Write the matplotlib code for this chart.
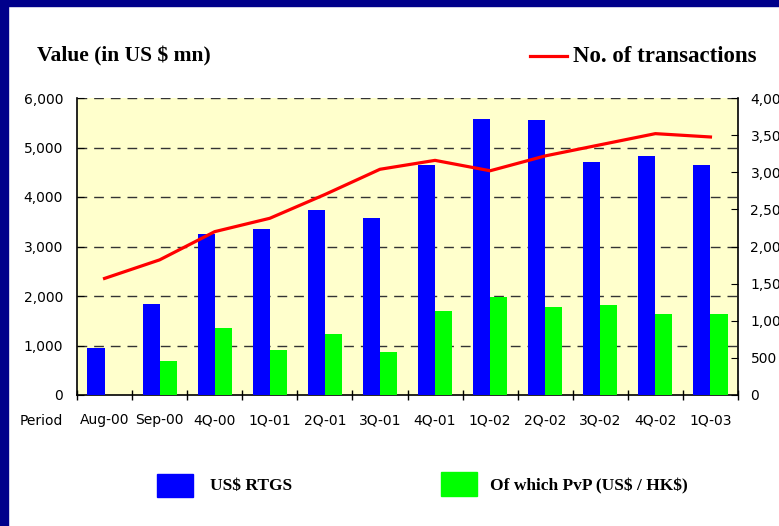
import matplotlib.pyplot as plt
import numpy as np
from matplotlib.patches import Rectangle
from matplotlib.lines import Line2D
from matplotlib.ticker import FuncFormatter

plt.rcParams["text.usetex"] = False
plt.rcParams["text.parse_math"] = False

periods = ["Aug-00", "Sep-00", "4Q-00", "1Q-01", "2Q-01", "3Q-01",
           "4Q-01", "1Q-02", "2Q-02", "3Q-02", "4Q-02", "1Q-03"]
rtgs_value = [950, 1830, 3250, 3360, 3730, 3570, 4640, 5580, 5560, 4700, 4820, 4640]
pvp_value = [0, 690, 1350, 910, 1240, 860, 1700, 1980, 1780, 1820, 1640, 1630]
transactions = [1570, 1820, 2200, 2380, 2700, 3040, 3160, 3020, 3220, 3370, 3520, 3475]

W, H = 779, 526
fig = plt.figure(figsize=(W / 100, H / 100), dpi=100, facecolor="white")

# navy frame on left and top
navy = "#00008B"
fig.patches.append(Rectangle((0, 0), 8 / W, 1, transform=fig.transFigure, color=navy, zorder=0))
fig.patches.append(Rectangle((0, 1 - 6 / H), 1, 6 / H, transform=fig.transFigure, color=navy, zorder=0))

ax = fig.add_axes([77 / W, (H - 395) / H, 661 / W, 297 / H])
ax.set_facecolor("#FFFFCC")

x = np.arange(len(periods))
bw = 0.31
ax.bar(x - bw / 2, rtgs_value, bw, color="#0000FF", zorder=3)
ax.bar(x + bw / 2, pvp_value, bw, color="#00FF00", zorder=3)

ax.set_xlim(-0.5, len(periods) - 0.5)
ax.set_ylim(0, 6000)
ax.set_yticks(range(0, 6001, 1000))
ax.yaxis.set_major_formatter(FuncFormatter(lambda v, p: f"{int(v):,}"))
for yv in range(1000, 6001, 1000):
    ax.axhline(yv, color="#333333", lw=1, ls=(0, (7, 5)), zorder=1)

ax.set_xticks(np.arange(-0.5, len(periods), 1))
ax.set_xticklabels([])
ax.set_xticks(x, minor=True)
ax.set_xticklabels(periods, minor=True)
ax.tick_params(axis="x", which="major", direction="inout", length=7, width=1)
ax.tick_params(axis="x", which="minor", length=0, pad=13, labelsize=10)
ax.tick_params(axis="y", direction="in", length=5, pad=10, labelsize=10)

for s in ["top", "right"]:
    ax.spines[s].set_visible(False)
ax.spines["left"].set_linewidth(1.2)
ax.spines["bottom"].set_linewidth(1.2)

ax2 = ax.twinx()
ax2.plot(x, transactions, color="#FF0000", lw=2.3, zorder=4)
ax2.set_ylim(0, 4000)
ax2.set_yticks(range(0, 4001, 500))
ax2.yaxis.set_major_formatter(FuncFormatter(lambda v, p: f"{int(v):,}"))
ax2.tick_params(axis="y", direction="in", length=5, pad=9, labelsize=10)
for s in ["top", "left", "bottom"]:
    ax2.spines[s].set_visible(False)
ax2.spines["right"].set_linewidth(1.2)

fig.text(20 / W, 1 - 421 / H, "Period", fontsize=10, va="center", ha="left")

serif = "Liberation Serif"
fig.text(37 / W, 1 - 56 / H, "Value (in US $ mn)", fontsize=15.5, fontweight="bold",
         family=serif, va="center", ha="left")
fig.add_artist(Line2D([530 / W, 567 / W], [1 - 56 / H, 1 - 56 / H], color="#FF0000", lw=2.3))
fig.text(573 / W, 1 - 57 / H, "No. of transactions", fontsize=16.5, fontweight="bold",
         family=serif, va="center", ha="left")

fig.patches.append(Rectangle((157 / W, 1 - 497 / H), 36 / W, 23 / H,
                             transform=fig.transFigure, color="#0000FF"))
fig.text(210 / W, 1 - 486 / H, "US$ RTGS", fontsize=12.5, fontweight="bold",
         family=serif, va="center", ha="left")
fig.patches.append(Rectangle((441 / W, 1 - 496 / H), 36 / W, 24 / H,
                             transform=fig.transFigure, color="#00FF00"))
fig.text(490 / W, 1 - 486 / H, "Of which PvP (US$ / HK$)", fontsize=12.5, fontweight="bold",
         family=serif, va="center", ha="left")

fig.savefig("out.png", dpi=100, facecolor="white")
